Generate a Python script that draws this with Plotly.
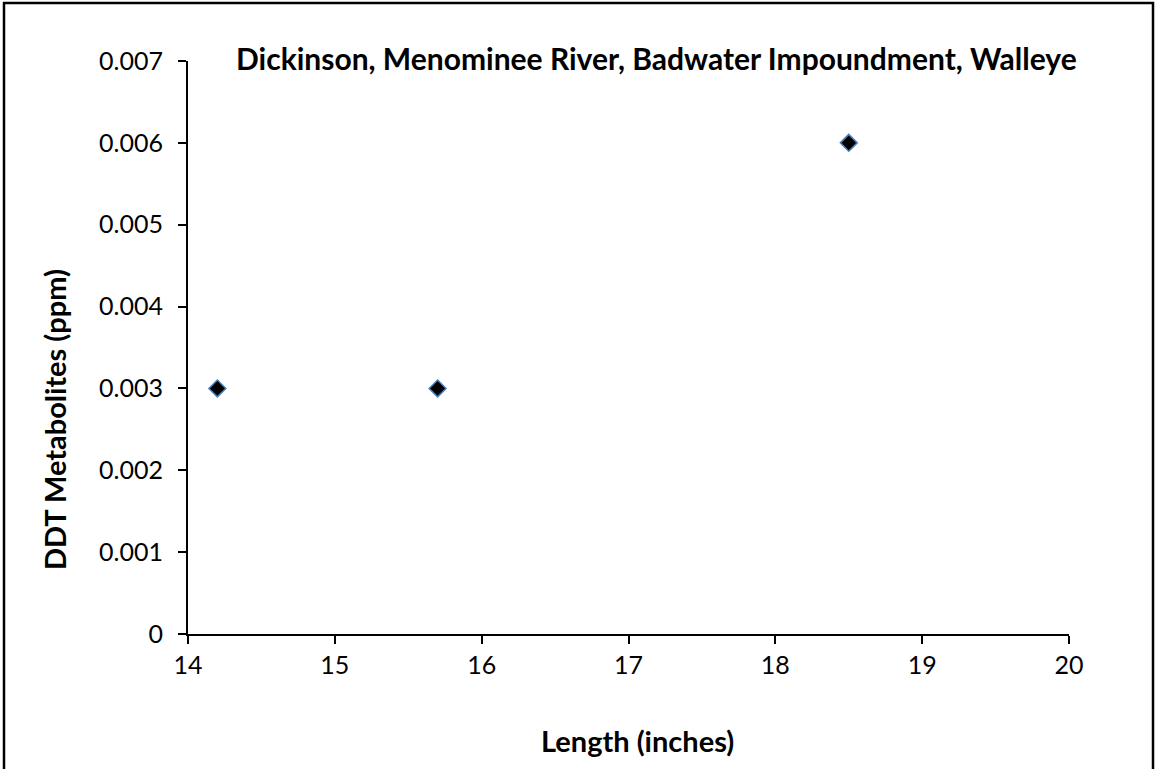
import plotly.graph_objects as go

length_in = [14.2, 15.7, 18.5]
ddt_ppm = [0.003, 0.003, 0.006]
x_ticks = [14, 15, 16, 17, 18, 19, 20]
y_ticks = [0, 0.001, 0.002, 0.003, 0.004, 0.005, 0.006, 0.007]
y_tick_text = ["0", "0.001", "0.002", "0.003", "0.004", "0.005", "0.006", "0.007"]

FONT = "Lato, Carlito, Calibri, sans-serif"
W, H = 1156, 769
L, R, T, B = 188, 87, 61, 135
pw, ph = W - L - R, H - T - B


def px_x(px):
    return (px - L) / pw


def px_y(py):
    return (H - B - py) / ph


fig = go.Figure()
fig.add_trace(go.Scatter(
    x=length_in, y=ddt_ppm, mode="markers",
    marker=dict(symbol="diamond", size=13, color="black",
                line=dict(color="#4a7ebb", width=1.5)),
    showlegend=False,
))

fig.update_layout(
    width=W, height=H,
    margin=dict(l=L, r=R, t=T, b=B),
    paper_bgcolor="white", plot_bgcolor="white",
    font=dict(family=FONT, size=25, color="black"),
    xaxis=dict(range=[14, 20], tickvals=x_ticks, showgrid=False, zeroline=False,
               showline=True, linecolor="black", linewidth=2,
               ticks="outside", ticklen=8, tickwidth=2, tickcolor="black",
               tickfont=dict(size=25), fixedrange=True),
    yaxis=dict(range=[0, 0.007], tickvals=y_ticks, ticktext=y_tick_text,
               showgrid=False, zeroline=False,
               showline=True, linecolor="black", linewidth=2,
               ticks="outside", ticklen=8, tickwidth=2, tickcolor="black",
               ticklabelstandoff=10,
               tickfont=dict(size=25), fixedrange=True),
    annotations=[
        dict(text="<b>Dickinson, Menominee River, Badwater Impoundment, Walleye</b>",
             xref="paper", yref="paper", x=px_x(1079), y=px_y(58),
             xanchor="right", yanchor="middle", showarrow=False,
             font=dict(family=FONT, size=30, color="black")),
        dict(text="<b>Length (inches)</b>",
             xref="paper", yref="paper", x=px_x(637), y=px_y(740),
             xanchor="center", yanchor="middle", showarrow=False,
             font=dict(family=FONT, size=29, color="black")),
        dict(text="<b>DDT Metabolites (ppm)</b>", textangle=-90,
             xref="paper", yref="paper", x=px_x(54), y=px_y(420),
             xanchor="center", yanchor="middle", showarrow=False,
             font=dict(family=FONT, size=29, color="black")),
    ],
    shapes=[dict(
        type="rect", xref="paper", yref="paper",
        x0=px_x(4), x1=px_x(1153),
        y0=px_y(790), y1=px_y(3),
        line=dict(color="black", width=2.5), fillcolor="rgba(0,0,0,0)", layer="above",
    )],
)

fig.write_html("out.html", config={"displayModeBar": False},
               post_script="document.body.style.margin='0';document.body.style.overflow='hidden';")
